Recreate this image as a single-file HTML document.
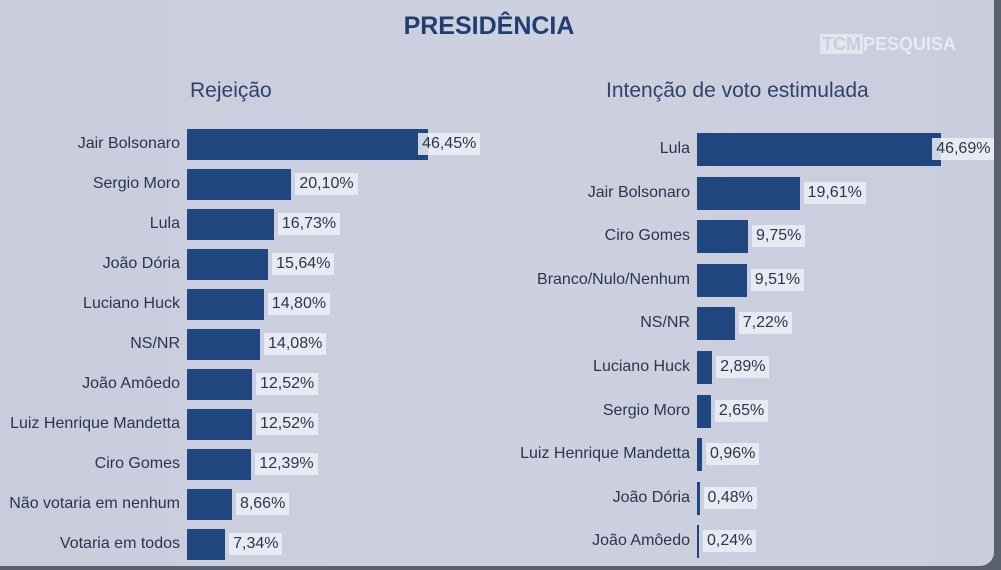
<!DOCTYPE html>
<html><head><meta charset="utf-8"><style>
body{margin:0;width:1001px;height:570px;overflow:hidden;background:#5a6070;font-family:"Liberation Sans",sans-serif}
#p{position:absolute;left:0;top:0;width:994px;height:566px;background:linear-gradient(90deg,#c9ccdc 0%,#cdd0df 50%,#c9cddd 100%);border-radius:0 0 14px 0}
.t{position:absolute;color:#1f3f72}
.l{position:absolute;text-align:right;font-size:16px;color:#2a3550;white-space:nowrap}
.b{position:absolute;background:#1f467f}
.v{position:absolute;font-size:16px;color:#2a3550;background:rgba(236,238,244,.85);padding:2px 4px;line-height:18px}
</style></head><body><div id="p">
<div class="t" style="left:0;width:978px;top:12px;text-align:center;font-size:25px;font-weight:bold">PRESIDÊNCIA</div>
<div class="t" style="left:190px;top:79px;font-size:21px;color:#2d4468">Rejeição</div>
<div class="t" style="left:606px;top:79px;font-size:21px;color:#2d4468">Intenção de voto estimulada</div>
<div style="position:absolute;left:820px;top:34px;font-size:18px;font-weight:bold;color:#e8eaf2"><span style="background:#e4e6ee;color:#c9ccdc;padding:0 2px">TCM</span>PESQUISA</div>
<div id="c"></div>
</div>
<script>
var L=[["Jair Bolsonaro",46.45],["Sergio Moro",20.10],["Lula",16.73],["João Dória",15.64],["Luciano Huck",14.80],["NS/NR",14.08],["João Amôedo",12.52],["Luiz Henrique Mandetta",12.52],["Ciro Gomes",12.39],["Não votaria em nenhum",8.66],["Votaria em todos",7.34]];
var R=[["Lula",46.69],["Jair Bolsonaro",19.61],["Ciro Gomes",9.75],["Branco/Nulo/Nenhum",9.51],["NS/NR",7.22],["Luciano Huck",2.89],["Sergio Moro",2.65],["Luiz Henrique Mandetta",0.96],["João Dória",0.48],["João Amôedo",0.24]];
var h="";
function f(v){return v.toFixed(2).replace(".",",")+"%"}
L.forEach(function(d,i){var c=144+40*i,w=d[1]*5.19;
h+='<div class="l" style="right:'+(994-180)+'px;top:'+(c-9)+'px">'+d[0]+'</div>';
h+='<div class="b" style="left:187px;top:'+(c-15)+'px;width:'+w+'px;height:31px"></div>';
h+='<div class="v" style="left:'+(i==0?187+w-10:187+w+4)+'px;top:'+(c-11)+'px">'+f(d[1])+'</div>';});
R.forEach(function(d,i){var c=149+43.6*i,w=Math.max(d[1]*5.23,2);
h+='<div class="l" style="right:'+(994-690)+'px;top:'+(c-9)+'px">'+d[0]+'</div>';
h+='<div class="b" style="left:697px;top:'+(c-16)+'px;width:'+w+'px;height:33px"></div>';
h+='<div class="v" style="left:'+(i==0?697+w-9:697+w+4)+'px;top:'+(c-11)+'px">'+f(d[1])+'</div>';});
document.getElementById("c").innerHTML=h;
</script></body></html>
